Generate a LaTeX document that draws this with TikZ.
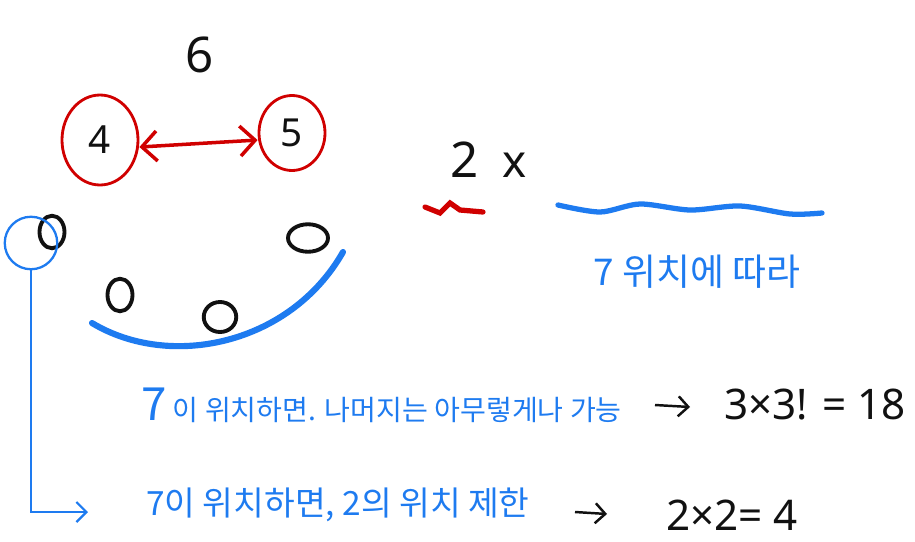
\documentclass[tikz,border=0pt]{standalone}
\usepackage{fontspec}
\setmainfont{Noto Sans CJK KR}
\newfontfamily\numfont{Noto Sans}
\usetikzlibrary{arrows.meta, shapes.geometric, positioning}
\definecolor{penBlue}{HTML}{1E7BF0}
\definecolor{penRed}{HTML}{D00000}
\definecolor{penBlack}{HTML}{111111}
\tikzset{
  bluestroke/.style = {penBlue, line width=3pt, line cap=round},
  redstroke/.style  = {penRed, line width=2pt, line cap=round},
  ringnode/.style   = {ellipse, draw=penRed, line width=1.6pt, inner sep=0pt,
                       font=\numfont\fontsize{22}{24}\selectfont, text=penBlack},
  slotnode/.style   = {ellipse, draw=penBlack, line width=2.2pt, inner sep=0pt,
                       minimum width=0.5cm, minimum height=0.65cm},
  numlbl/.style     = {font=\numfont\fontsize{28}{30}\selectfont, penBlack},
  bluelbl/.style    = {font=\fontsize{16}{18}\selectfont, penBlue, anchor=west},
  mathlbl/.style    = {font=\numfont\fontsize{24}{26}\selectfont, penBlack, anchor=west},
  pointer/.style    = {-{Straight Barb[length=2mm]}, penBlack, line width=1.4pt},
}
\begin{document}
\begin{tikzpicture}
  \useasboundingbox (0,0) rectangle (18.3,-10.82);
  % 4 and 5 swap places, 6 above them
  \node[numlbl] (six) at (4.0,-1.1) {6};
  \node[ringnode, minimum width=1.52cm, minimum height=1.8cm] (four) at (2.0,-2.8) {4};
  \node[ringnode, minimum width=1.32cm, minimum height=1.5cm] (five) at (5.84,-2.66) {5};
  \draw[redstroke, {Straight Barb[length=3mm]}-{Straight Barb[length=3mm]}]
    ([yshift=-4pt]four.east) -- ([yshift=-4pt]five.west);
  % 2x, with the red tick under the 2
  \node[numlbl] (two) at (9.3,-3.2) {2};
  \node[numlbl, font=\numfont\fontsize{26}{28}\selectfont] (times) at (10.3,-3.3) {x};
  \draw[redstroke, line width=3pt] (8.5,-4.14) -- (8.8,-4.26) -- (9.0,-4.06)
    -- (9.2,-4.2) -- (9.66,-4.24);
  % wavy line and its note
  \draw[bluestroke] plot[smooth] coordinates {(11.16,-4.1) (12.0,-4.24) (12.8,-4.08)
    (13.8,-4.2) (14.8,-4.12) (15.8,-4.28) (16.44,-4.26)};
  \node[bluelbl, anchor=center, font=\fontsize{21}{23}\selectfont] (note) at (13.94,-5.44)
    {7 위치에 따라};
  % the four open slots and the curve under them
  \node[slotnode] (s1) at (1.04,-4.64) {};
  \node[slotnode] (s2) at (2.4,-5.9) {};
  \node[slotnode, minimum width=0.65cm, minimum height=0.6cm] (s3) at (4.4,-6.34) {};
  \node[slotnode, minimum width=0.8cm, minimum height=0.55cm] (s4) at (6.16,-4.76) {};
  \draw[bluestroke, line width=3.5pt] (1.84,-6.46) .. controls (3.4,-7.4) and (5.8,-6.9) .. (6.86,-5.04);
  % first slot picked out
  \node[circle, draw=penBlue, line width=1.3pt, minimum size=1.05cm] (loop) at (0.62,-4.86) {};
  \coordinate (tip) at (1.76,-10.24);
  \draw[penBlue, line width=1.3pt, -{Straight Barb[length=2mm]}] (loop.south) |- (tip);
  % the two cases
  \node[bluelbl] (caseA) at (2.7,-8.1)
    {{\fontsize{26}{28}\selectfont 7} 이 위치하면. 나머지는 아무렇게나 가능};
  \node[mathlbl] (resA) at (14.36,-8.1) {3×3! = 18};
  \coordinate (fromA) at (13.1,-8.1);
  \coordinate (toA) at (13.8,-8.14);
  \draw[pointer] (fromA) -- (toA);
  \node[bluelbl, font=\fontsize{19}{21}\selectfont] (caseB) at (2.8,-10.1)
    {7이 위치하면, 2의 위치 제한};
  \node[mathlbl] (resB) at (13.2,-10.3) {2×2= 4};
  \coordinate (fromB) at (11.5,-10.24);
  \coordinate (toB) at (12.14,-10.28);
  \draw[pointer] (fromB) -- (toB);
\end{tikzpicture}
\end{document}
